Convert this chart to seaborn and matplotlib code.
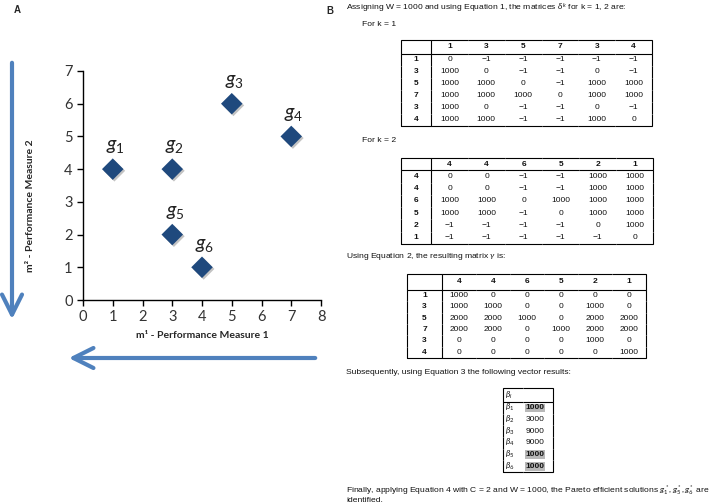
import numpy as np
import pandas as pd
import matplotlib.pyplot as plt
import matplotlib.patheffects as pe
from matplotlib.patches import FancyArrowPatch
import seaborn as sns

# panel A data
names = ["$g_{\\mathit{1}}$", "$g_{\\mathit{2}}$", "$g_{\\mathit{3}}$",
         "$g_{\\mathit{4}}$", "$g_{\\mathit{5}}$", "$g_{\\mathit{6}}$"]
m1 = [1, 3, 5, 7, 3, 4]
m2 = [4, 4, 6, 5, 2, 1]

# panel B data
delta_k1 = [[0, -1, -1, -1, -1, -1],
            [1000, 0, -1, -1, 0, -1],
            [1000, 1000, 0, -1, 1000, 1000],
            [1000, 1000, 1000, 0, 1000, 1000],
            [1000, 0, -1, -1, 0, -1],
            [1000, 1000, -1, -1, 1000, 0]]
delta_k2 = [[0, 0, -1, -1, 1000, 1000],
            [0, 0, -1, -1, 1000, 1000],
            [1000, 1000, 0, 1000, 1000, 1000],
            [1000, 1000, -1, 0, 1000, 1000],
            [-1, -1, -1, -1, 0, 1000],
            [-1, -1, -1, -1, -1, 0]]
gamma = [[1000, 0, 0, 0, 0, 0],
         [1000, 1000, 0, 0, 1000, 0],
         [2000, 2000, 1000, 0, 2000, 2000],
         [2000, 2000, 0, 1000, 2000, 2000],
         [0, 0, 0, 0, 1000, 0],
         [0, 0, 0, 0, 0, 1000]]
beta = [1000, 3000, 9000, 9000, 1000, 1000]

W, H = 709, 504
def fx(px): return px / W
def fy(py): return 1 - py / H

sns.set_style("white")
plt.rcParams['font.family'] = ['Lato', 'DejaVu Sans']
plt.rcParams['mathtext.fontset'] = 'custom'
plt.rcParams['mathtext.it'] = 'Lato:italic'
plt.rcParams['mathtext.rm'] = 'Lato'

fig = plt.figure(figsize=(7.09, 5.04), dpi=100)

# ---- Panel A
df = pd.DataFrame({"name": names, "m1": m1, "m2": m2})
ax = fig.add_axes([fx(83), fy(300), (321 - 83) / W, (300 - 71) / H])
sns.scatterplot(data=df, x="m1", y="m2", marker="D", s=120, color="#1f497d",
                edgecolor="none", ax=ax, zorder=3)
ax.collections[0].set_path_effects([pe.SimplePatchShadow(offset=(1.2, -1.2), alpha=0.35,
                                                         shadow_rgbFace="#555555"),
                                    pe.Normal()])
for _, r in df.iterrows():
    ax.annotate(r["name"], (r["m1"], r["m2"]), xytext=(2, 16), textcoords="offset points",
                ha="center", va="center", fontsize=14, color="#222222")
ax.set_xlim(0, 8)
ax.set_ylim(0, 7)
ax.set_xticks(range(9))
ax.set_yticks(range(8))
sns.despine(ax=ax)
for s in ["left", "bottom"]:
    ax.spines[s].set_color("black")
    ax.spines[s].set_linewidth(1.0)
ax.tick_params(direction="out", length=4, width=1, labelsize=10.5,
               colors="black", labelcolor="#333333", left=True, bottom=True)
ax.set_xlabel("m¹ - Performance Measure 1", fontsize=7.5, fontweight="bold")
ax.set_ylabel("m² - Performance Measure 2", fontsize=7.5, fontweight="bold", va="center")
ax.xaxis.set_label_coords(0.5, -0.135)
ax.yaxis.set_label_coords(-0.22, 0.41)

arrow_col = "#4f81bd"
for p0, p1 in [((12, 60), (12, 322)), ((318, 358), (66, 358))]:
    fig.add_artist(FancyArrowPatch((fx(p0[0]), fy(p0[1])), (fx(p1[0]), fy(p1[1])),
                                   transform=fig.transFigure,
                                   arrowstyle="->,head_length=0.8,head_width=0.4",
                                   mutation_scale=18, lw=3, color=arrow_col,
                                   capstyle="round", joinstyle="round"))

fig.text(fx(17), fy(10), "A", fontsize=7, fontweight="bold", family=["Liberation Sans"],
         ha="center", va="center")
fig.text(fx(330), fy(11), "B", fontsize=7, fontweight="bold", family=["Liberation Sans"],
         ha="center", va="center")

# ---- Panel B
tfam = ["Liberation Sans", "DejaVu Sans"]
tsize = 6.1
csize = 6.0

def note(x, y, s):
    fig.text(fx(x), fy(y), s, fontsize=tsize, family=tfam, ha="left", va="center",
             color="#111111")

def fmt(v):
    return "\u22121" if v < 0 else str(v)

def draw_table(box, col_lab, row_lab, vals, head_h, col0_w):
    left, top, right, bottom = box
    tax = fig.add_axes([fx(left), fy(bottom), (right - left) / W, (bottom - top) / H])
    tax.axis("off")
    cells = [[""] + col_lab] + [[rl] + [fmt(v) for v in row] for rl, row in zip(row_lab, vals)]
    nr, nc = len(cells), len(cells[0])
    ow = (1 - col0_w) / (nc - 1)
    tab = tax.table(cellText=cells, bbox=[0, 0, 1, 1], cellLoc="center",
                    colWidths=[col0_w] + [ow] * (nc - 1))
    tab.auto_set_font_size(False)
    tab.set_fontsize(csize)
    for (r, c), cell in tab.get_celld().items():
        e = ""
        if r == 0:
            e += "TB"
        if r == nr - 1:
            e += "B"
        if c == 0:
            e += "LR"
        if c == nc - 1:
            e += "R"
        cell.visible_edges = e
        cell.set_linewidth(0.8)
        cell.set_height(head_h if r == 0 else 1.0)
        t = cell.get_text()
        t.set_fontfamily(tfam)
        t.set_color("#111111")
        if r == 0 or c == 0:
            t.set_fontweight("bold")
    return tab

lab1 = [str(v) for v in m1]
lab2 = [str(v) for v in m2]

note(346, 7, "Assigning W = 1000 and using Equation 1, the matrices $\\delta^k$ for k = 1, 2 are:")
note(362, 25, "For k = 1")
draw_table((401, 40, 652, 126), lab1, lab1, delta_k1, 1.15, 0.12)
note(362, 141, "For k = 2")
draw_table((401, 158, 653, 244), lab2, lab2, delta_k2, 1.0, 0.12)
note(346, 257, "Using Equation 2, the resulting matrix $\\gamma$ is:")
draw_table((407, 274, 646, 358), lab2, lab1, gamma, 1.4, 0.146)
note(346, 373, "Subsequently, using Equation 3 the following vector results:")

# beta vector
bax = fig.add_axes([fx(503), fy(472), (553 - 503) / W, (472 - 388) / H])
bax.axis("off")
bcells = [["$\\beta_i$", ""]] + [["$\\beta_{%d}$" % (i + 1), str(v)] for i, v in enumerate(beta)]
btab = bax.table(cellText=bcells, bbox=[0, 0, 1, 1], cellLoc="left", colWidths=[0.4, 0.6])
btab.auto_set_font_size(False)
btab.set_fontsize(csize)
bmin = min(beta)
for (r, c), cell in btab.get_celld().items():
    e = ""
    if r == 0:
        e += "TB"
    if r == len(bcells) - 1:
        e += "B"
    if c == 0:
        e += "L"
    if c == 1:
        e += "R"
    cell.visible_edges = e
    cell.set_linewidth(0.8)
    cell.set_height(1.2 if r == 0 else 1.0)
    cell.PAD = 0.08
    t = cell.get_text()
    t.set_fontfamily(tfam)
    t.set_color("#111111")
    if r > 0 and c == 1 and beta[r - 1] == bmin:
        t.set_fontweight("bold")
        t.set_bbox(dict(facecolor="#b8b8b8", edgecolor="none", pad=0.6))

note(346, 490, "Finally, applying Equation 4 with C = 2 and W = 1000, the Pareto efficient solutions "
               "$g_1^*, g_5^*, g_6^*$ are")
note(346, 501, "identified.")

fig.savefig("out.png", dpi=100)
